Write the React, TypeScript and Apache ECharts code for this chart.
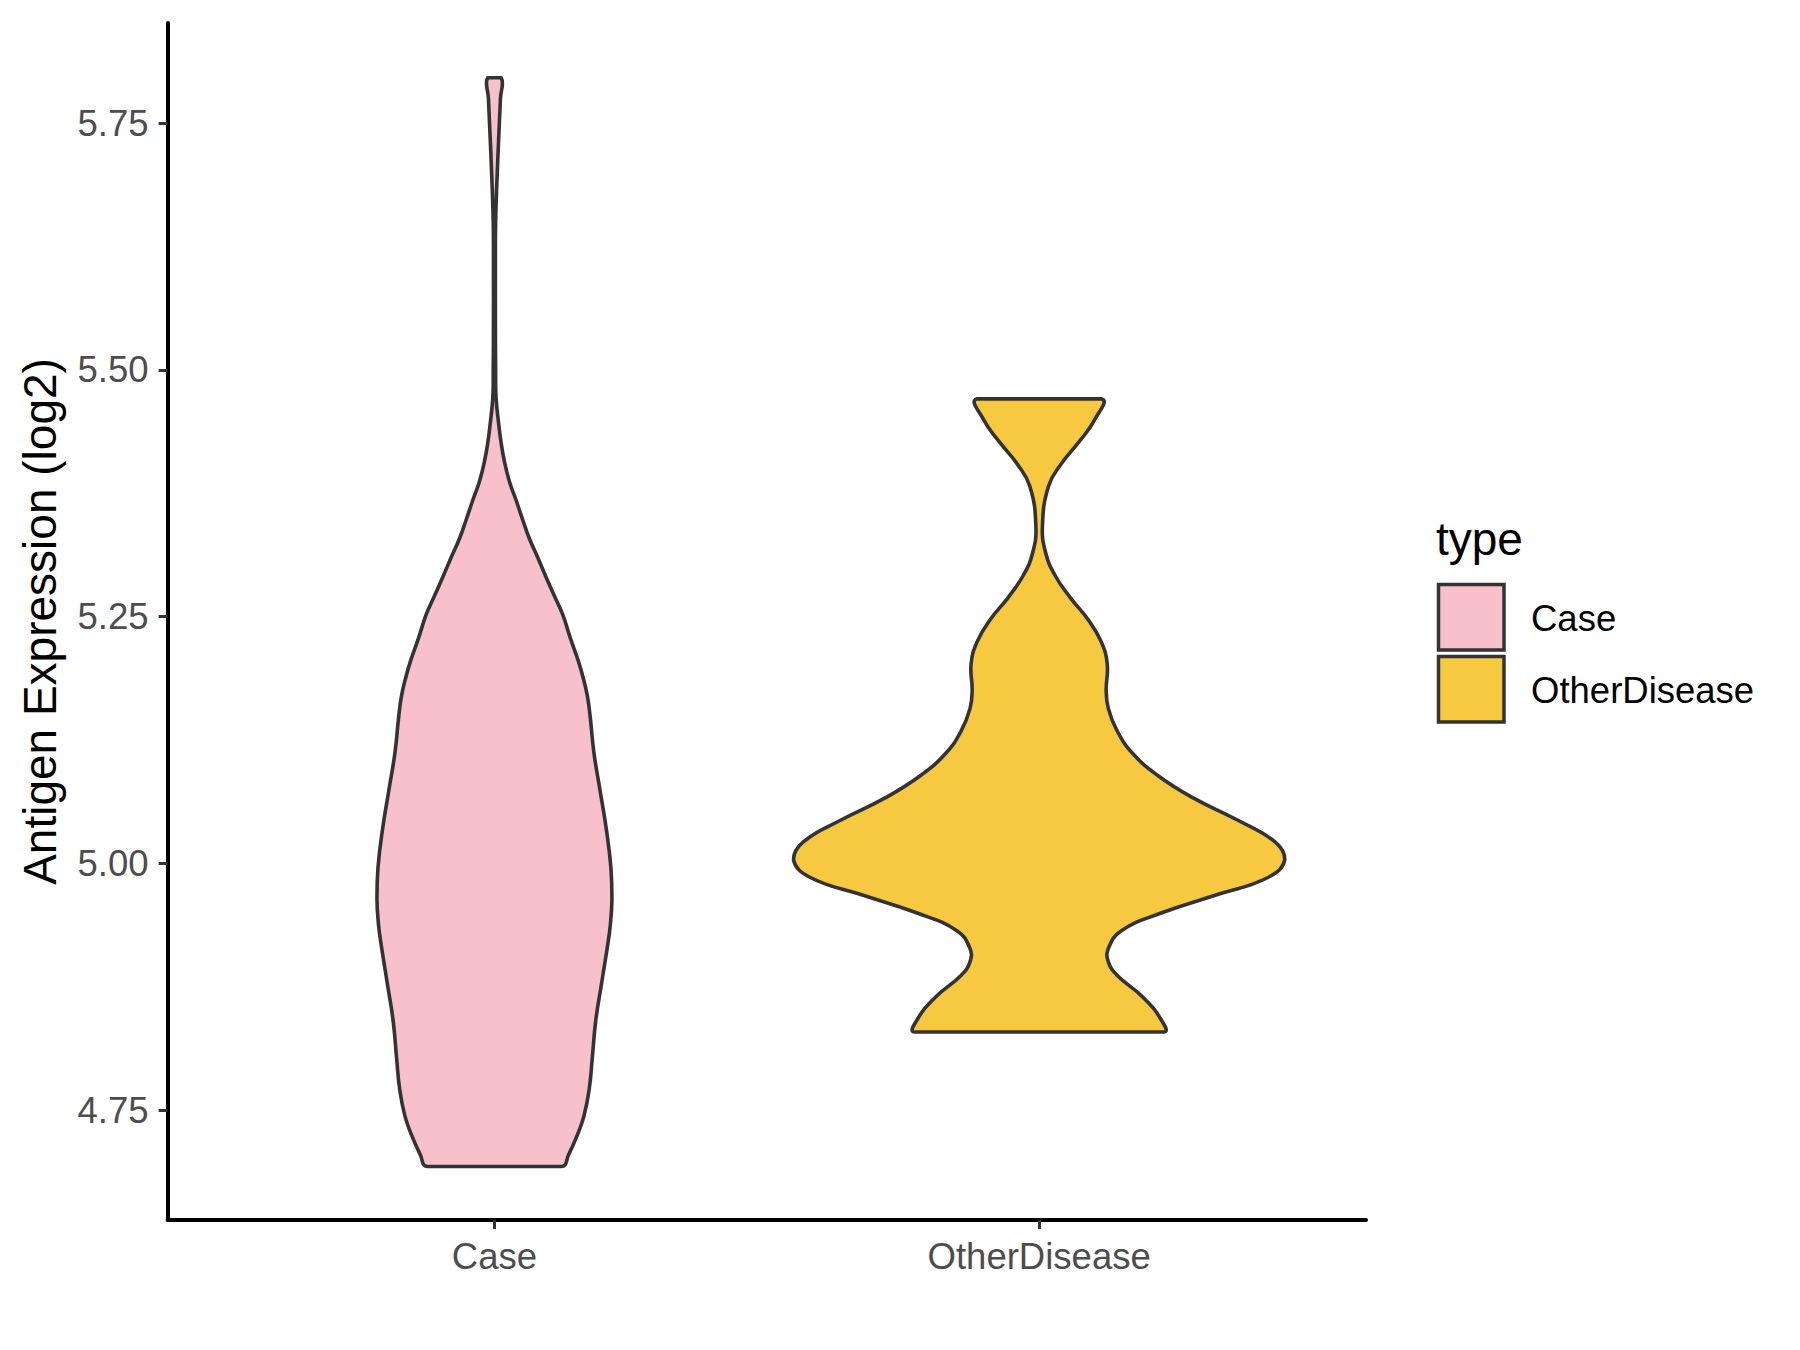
import React, { useEffect, useRef } from "react";
import * as echarts from "echarts";

// Categories and tick labels
const categories = ["Case", "OtherDisease"];
const yTickValues = [4.75, 5.0, 5.25, 5.5, 5.75];
const fillColors = ["#F7C0CB", "#F6C940"];

// Violin outlines: value (log2) and half-width (in category units)
const caseY = [
  4.693, 4.705, 4.724, 4.744, 4.771, 4.802, 4.84, 4.879, 4.918, 4.937, 4.964,
  4.995, 5.034, 5.073, 5.112, 5.15, 5.17, 5.189, 5.206, 5.228, 5.252, 5.271,
  5.29, 5.31, 5.329, 5.348, 5.368, 5.387, 5.407, 5.426, 5.445, 5.472, 5.5,
  5.55, 5.6, 5.65, 5.697, 5.736, 5.775, 5.796,
];
const caseHalf = [
  0.1234, 0.1362, 0.1515, 0.1643, 0.1739, 0.1795, 0.1858, 0.1968, 0.208,
  0.2126, 0.2157, 0.2139, 0.2056, 0.1942, 0.1827, 0.1755, 0.1705, 0.1625,
  0.1535, 0.1395, 0.1254, 0.1102, 0.0949, 0.0795, 0.0643, 0.052, 0.0398,
  0.0275, 0.0184, 0.0123, 0.0079, 0.003, 0.0022, 0.0018, 0.0018, 0.0022,
  0.005, 0.0079, 0.011, 0.0123,
];

const otherY = [
  4.8292, 4.8417, 4.8643, 4.8868, 4.9003, 4.9138, 4.9319, 4.9498, 4.9678,
  4.9858, 5.0038, 5.0219, 5.0443, 5.0669, 5.0894, 5.1119, 5.1345, 5.1569,
  5.175, 5.2019, 5.2245, 5.247, 5.2694, 5.292, 5.3145, 5.3415, 5.382, 5.4045,
  5.4271, 5.4496, 5.4707,
];
const otherHalf = [
  0.229, 0.224, 0.191, 0.143, 0.127, 0.127, 0.151, 0.224, 0.323, 0.42, 0.451,
  0.433, 0.363, 0.281, 0.217, 0.171, 0.143, 0.127, 0.123, 0.125, 0.114, 0.09,
  0.057, 0.029, 0.012, 0.006, 0.017, 0.04, 0.073, 0.102, 0.114,
];

const violins = [
  { y: caseY, half: caseHalf },
  { y: otherY, half: otherHalf },
];

const FONT = "'Liberation Sans', Arial, Helvetica, sans-serif";

export default function App() {
  const ref = useRef<HTMLDivElement>(null);

  useEffect(() => {
    if (!ref.current) return;
    const chart = echarts.init(ref.current, undefined, { renderer: "svg" });

    const makeSeries = (i: number) => ({
      type: "custom",
      name: categories[i],
      data: [[i + 1, violins[i].y[0]]],
      encode: { x: 0, y: 1 },
      itemStyle: { color: fillColors[i] },
      renderItem: (params: any, api: any) => {
        const pos = api.value(0);
        const v = violins[i];
        const pts: number[][] = [];
        for (let k = 0; k < v.y.length; k++) {
          pts.push(api.coord([pos + v.half[k], v.y[k]]));
        }
        for (let k = v.y.length - 1; k >= 0; k--) {
          pts.push(api.coord([pos - v.half[k], v.y[k]]));
        }
        let x0 = Infinity, y0 = Infinity, x1 = -Infinity, y1 = -Infinity;
        pts.forEach((p) => {
          x0 = Math.min(x0, p[0]);
          y0 = Math.min(y0, p[1]);
          x1 = Math.max(x1, p[0]);
          y1 = Math.max(y1, p[1]);
        });
        return {
          type: "polygon",
          shape: {
            points: pts,
            smooth: 0.45,
            smoothConstraint: [
              [x0, y0],
              [x1, y1],
            ],
          },
          style: {
            fill: fillColors[i],
            stroke: "#333333",
            lineWidth: 3.6,
            lineJoin: "round",
          },
        };
      },
    });

    const option: any = {
      animation: false,
      backgroundColor: "#FFFFFF",
      grid: { left: 167.6, right: 434, top: 23, bottom: 130, containLabel: false },
      xAxis: {
        type: "value",
        min: 0.4,
        max: 2.6,
        splitLine: { show: false },
        axisLine: { show: true, lineStyle: { color: "#000000", width: 4 } },
        axisTick: {
          show: true,
          length: 9,
          customValues: [1, 2],
          lineStyle: { color: "#333333", width: 3 },
        },
        axisLabel: {
          customValues: [1, 2],
          formatter: (v: number) => categories[Math.round(v) - 1] ?? "",
          color: "#4D4D4D",
          fontSize: 36.5,
          fontFamily: FONT,
          margin: 18,
        },
      },
      yAxis: {
        type: "value",
        min: 4.6388,
        max: 5.8515,
        splitLine: { show: false },
        axisLine: { show: true, lineStyle: { color: "#000000", width: 4 } },
        axisTick: {
          show: true,
          length: 9,
          customValues: yTickValues,
          lineStyle: { color: "#333333", width: 3 },
        },
        axisLabel: {
          customValues: yTickValues,
          formatter: (v: number) => v.toFixed(2),
          color: "#4D4D4D",
          fontSize: 36.5,
          fontFamily: FONT,
          margin: 19,
        },
        name: "Antigen Expression (log2)",
        nameLocation: "middle",
        nameGap: 105,
        nameTextStyle: { color: "#000000", fontSize: 46, fontFamily: FONT },
      },
      series: [makeSeries(0), makeSeries(1)],
      graphic: [
        {
          type: "text",
          left: 1436,
          top: 516,
          style: { text: "type", fill: "#000000", fontSize: 46, fontFamily: FONT },
        },
        {
          type: "rect",
          shape: { x: 1438.5, y: 584.5, width: 65.5, height: 65.5 },
          style: { fill: fillColors[0], stroke: "#333333", lineWidth: 3.5 },
        },
        {
          type: "rect",
          shape: { x: 1438.5, y: 656.5, width: 65.5, height: 65.5 },
          style: { fill: fillColors[1], stroke: "#333333", lineWidth: 3.5 },
        },
        {
          type: "text",
          x: 1531,
          y: 618,
          style: {
            text: categories[0],
            fill: "#000000",
            fontSize: 36.5,
            fontFamily: FONT,
            verticalAlign: "middle",
          },
        },
        {
          type: "text",
          x: 1531,
          y: 690,
          style: {
            text: categories[1],
            fill: "#000000",
            fontSize: 36.5,
            fontFamily: FONT,
            verticalAlign: "middle",
          },
        },
      ],
    };

    chart.setOption(option);
    return () => chart.dispose();
  }, []);

  return (
    <div
      ref={ref}
      style={{ position: "fixed", left: 0, top: 0, width: 1800, height: 1350, background: "#fff" }}
    />
  );
}
